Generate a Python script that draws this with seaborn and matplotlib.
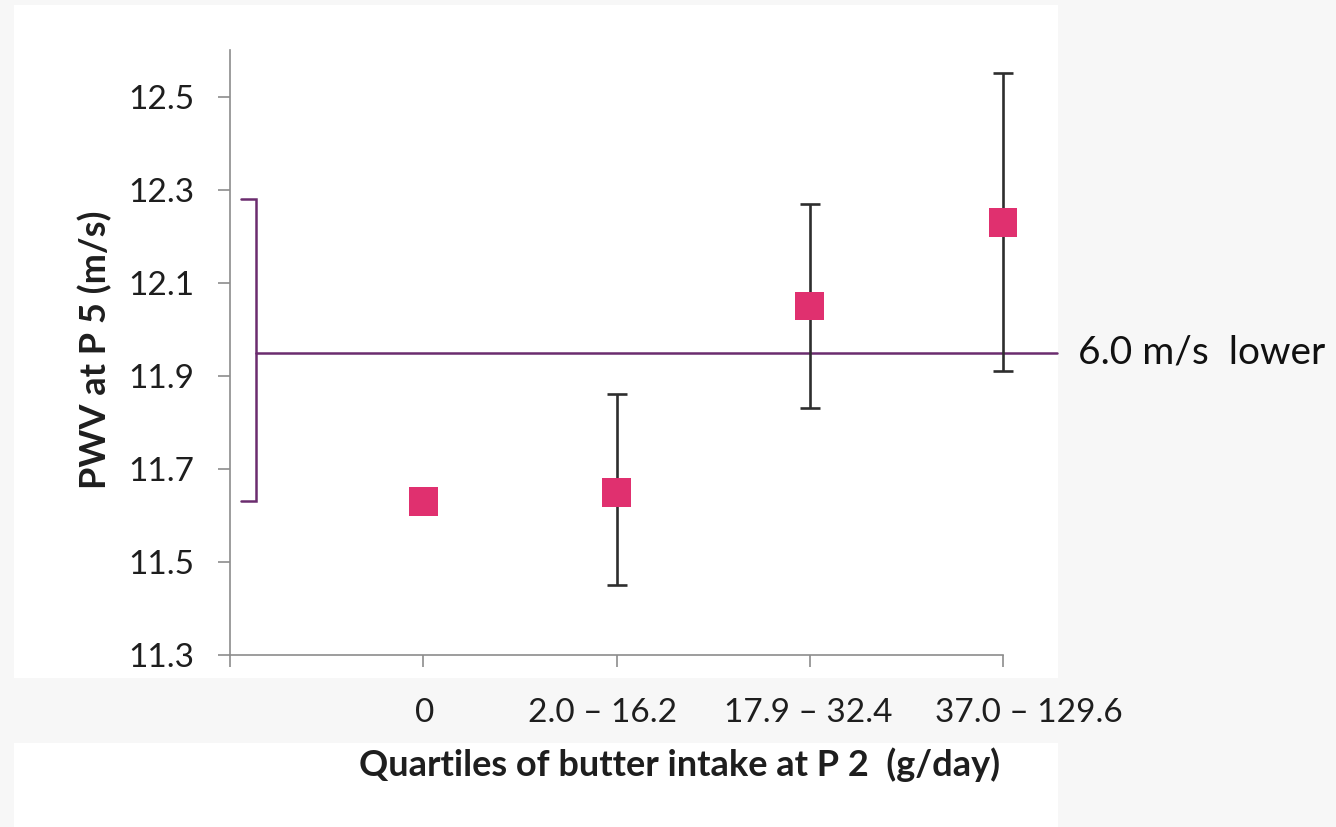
import numpy as np
import pandas as pd
import matplotlib
matplotlib.use("Agg")
import matplotlib.pyplot as plt
import matplotlib.transforms as mtransforms
from matplotlib.patches import Rectangle
import seaborn as sns

# Quartile groups of butter intake and mean PWV with 95% CI
categories = ["0", "2.0 – 16.2", "17.9 – 32.4", "37.0 – 129.6"]
pwv_mean = [11.63, 11.65, 12.05, 12.23]
ci_low = [np.nan, 11.45, 11.83, 11.91]
ci_high = [np.nan, 11.86, 12.27, 12.55]
y_ticks = [11.3, 11.5, 11.7, 11.9, 12.1, 12.3, 12.5]
reference_level = 11.95
bracket_span = (11.63, 12.28)
difference_label = "6.0 m/s  lower"

sns.set_theme(style="white")
plt.rcParams["font.family"] = ["Lato", "DejaVu Sans"]

PINK = "#E0306F"
PURPLE = "#6B2C6E"
AXIS_GREY = "#8C8C8C"
TEXT = "#1E1E1E"

fig = plt.figure(figsize=(13.36, 8.27), dpi=100, facecolor="#F7F7F7")
W, H = 1336, 827

# white panels behind the plot area and the axis title
fig.patches.append(Rectangle((14 / W, 1 - 678 / H), (1058 - 14) / W, (678 - 5) / H,
                             transform=fig.transFigure, facecolor="white",
                             edgecolor="none", zorder=-5))
fig.patches.append(Rectangle((14 / W, 0), (1058 - 14) / W, 1 - 743 / H,
                             transform=fig.transFigure, facecolor="white",
                             edgecolor="none", zorder=-5))

ax = fig.add_axes([230 / W, 1 - 655 / H, (1003 - 230) / W, (655 - 50) / H])
ax.set_zorder(2)
ax.set_facecolor("none")

df = pd.DataFrame({"pos": np.arange(len(categories)), "pwv": pwv_mean,
                   "lo": ci_low, "hi": ci_high})
has_ci = df.dropna()
eb = ax.errorbar(has_ci["pos"], has_ci["pwv"],
                 yerr=[has_ci["pwv"] - has_ci["lo"], has_ci["hi"] - has_ci["pwv"]],
                 fmt="none", ecolor="#2E2E2E", elinewidth=1.9, capsize=7.5,
                 capthick=1.9, zorder=2)
for art in eb.lines[1] + eb.lines[2]:
    art.set_clip_on(False)
sns.scatterplot(data=df, x="pos", y="pwv", marker="s", s=430, color=PINK,
                edgecolor="none", linewidth=0, zorder=3, legend=False, ax=ax,
                clip_on=False)

ax.set_xlim(-1, 3)
ax.set_ylim(11.3, 12.6)
ax.set_xticks(range(-1, len(categories)))
ax.set_xticklabels([""] + categories)
ax.set_yticks(y_ticks)
ax.set_yticklabels([f"{t:.1f}" for t in y_ticks])

for side in ("top", "right"):
    ax.spines[side].set_visible(False)
for side in ("left", "bottom"):
    ax.spines[side].set_color(AXIS_GREY)
    ax.spines[side].set_linewidth(1.2)

ax.tick_params(axis="y", direction="out", length=8.6, width=1.2, color=AXIS_GREY,
               pad=17, labelsize=24, labelcolor=TEXT, left=True)
ax.tick_params(axis="x", direction="out", length=8.6, width=1.2, color=AXIS_GREY,
               pad=22, labelsize=24, labelcolor=TEXT, bottom=True)

# category labels sit in hand-placed boxes, nudged sideways from their ticks
label_nudge_px = [0, 1, -14, -2, 26]
for lab, dx in zip(ax.get_xticklabels(), label_nudge_px):
    lab.set_transform(lab.get_transform()
                      + mtransforms.ScaledTranslation(dx / 100, 0, fig.dpi_scale_trans))

ax.set_xlabel("Quartiles of butter intake at P 2  (g/day)", fontsize=26,
              fontweight="bold", color=TEXT, va="center")
ax.xaxis.set_label_coords((680 - 230) / 773, (655 - 765) / 605)
ax.set_ylabel("PWV at P 5 (m/s)", fontsize=26, fontweight="bold", color=TEXT,
              va="center")
ax.yaxis.set_label_coords((95 - 230) / 773, (655 - 350) / 605)

# bracket spanning the difference and the reference line
blend = mtransforms.blended_transform_factory(ax.transAxes, ax.transData)
bx0, bx1 = (241 - 230) / 773, (256 - 230) / 773
ax.plot([bx0, bx1, bx1, bx0],
        [bracket_span[1], bracket_span[1], bracket_span[0], bracket_span[0]],
        transform=blend, color=PURPLE, lw=1.8, clip_on=False, zorder=1,
        solid_joinstyle="miter")
ax.plot([bx1, (1057 - 230) / 773], [reference_level, reference_level],
        transform=blend, color=PURPLE, lw=1.8, clip_on=False, zorder=1)
ax.text((1078 - 230) / 773, reference_level, difference_label, transform=blend,
        fontsize=28, color="#111111", va="center", ha="left")

fig.savefig("out.png", dpi=100, facecolor=fig.get_facecolor())
